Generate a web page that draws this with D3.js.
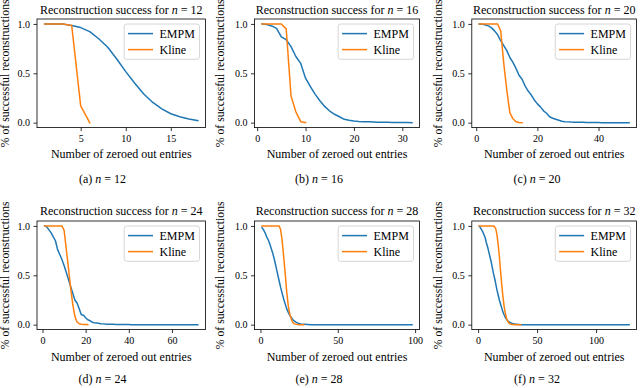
<!DOCTYPE html>
<html>
<head>
<meta charset="utf-8">
<script src="https://cdn.jsdelivr.net/npm/d3@7"></script>
<style>
  html, body { margin: 0; padding: 0; background: #fff; }
  svg { display: block; }
  svg text { font-family: "Liberation Serif", serif; fill: #000; }
</style>
</head>
<body>
<svg id="chart" width="640" height="388"></svg>
<script>

//--------------------------------------
// DATA  (x = number of zeroed out entries, starting at 1)
//--------------------------------------

var empm12 = [1.0, 1.0, 1.0, 0.985, 0.963, 0.922, 0.85, 0.764, 0.645, 0.517, 0.40, 0.29,
  0.205, 0.14, 0.09, 0.06, 0.038, 0.02];
var kline12 = [1.0, 1.0, 1.0, 0.985, 0.17, 0.0];

var empm16 = [1.0, 0.995, 0.98, 0.955, 0.87, 0.84, 0.77, 0.67, 0.60, 0.45, 0.365, 0.287,
  0.22, 0.162, 0.118, 0.085, 0.06, 0.034, 0.024, 0.017, 0.012, 0.01, 0.008, 0.006,
  0.005, 0.004, 0.003, 0.002, 0.002, 0.001, 0.001, 0.0];
var kline16 = [1.0, 1.0, 1.0, 1.0, 1.0, 0.95, 0.27, 0.11, 0.01, 0.0];

var empm20 = [1.0, 0.998, 0.99, 0.98, 0.96, 0.93, 0.89, 0.83, 0.78, 0.73, 0.66, 0.61,
  0.55, 0.48, 0.44, 0.37, 0.32, 0.28, 0.23, 0.19, 0.16, 0.12, 0.095, 0.06,
  0.045, 0.035, 0.025, 0.015, 0.01, 0.008, 0.006, 0.005, 0.004, 0.003, 0.003, 0.002,
  0.001, 0.001, 0.001, 0.001, 0, 0, 0, 0, 0, 0, 0, 0, 0, 0];
var kline20 = [1.0, 1.0, 1.0, 1.0, 1.0, 1.0, 1.0, 0.93, 0.6, 0.33, 0.1, 0.04, 0.01, 0.002, 0.0];

var empm24 = [1.0, 0.99, 0.96, 0.93, 0.89, 0.85, 0.76, 0.71, 0.66, 0.60, 0.53, 0.46,
  0.39, 0.32, 0.25, 0.22, 0.16, 0.10, 0.095, 0.07, 0.05, 0.04, 0.025, 0.02,
  0.018, 0.014, 0.01, 0.008, 0.006, 0.005, 0.004, 0.003, 0.003, 0.002, 0.002, 0.001,
  0.001, 0.001, 0.001, 0.001,
  0, 0, 0, 0, 0, 0, 0, 0, 0, 0, 0, 0, 0, 0, 0, 0,
  0, 0, 0, 0, 0, 0, 0, 0, 0, 0, 0, 0, 0, 0, 0, 0];
var kline24 = [1.0, 1.0, 1.0, 1.0, 1.0, 1.0, 1.0, 1.0, 1.0, 0.956, 0.77, 0.58,
  0.38, 0.21, 0.085, 0.027, 0.01, 0.004, 0.002, 0.001, 0.0];

var empm28 = [0.983, 0.96, 0.93, 0.89, 0.86, 0.82, 0.77, 0.72, 0.66, 0.59, 0.52, 0.45,
  0.38, 0.32, 0.26, 0.21, 0.16, 0.125, 0.095, 0.07, 0.05, 0.035, 0.025, 0.018,
  0.012, 0.008, 0.005, 0.004, 0.003, 0.002, 0.001,
  0, 0, 0, 0, 0, 0, 0, 0, 0, 0, 0, 0, 0, 0, 0, 0, 0, 0, 0, 0,
  0, 0, 0, 0, 0, 0, 0, 0, 0, 0, 0, 0, 0, 0, 0, 0, 0, 0, 0, 0,
  0, 0, 0, 0, 0, 0, 0, 0, 0, 0, 0, 0, 0, 0, 0, 0, 0, 0, 0, 0,
  0, 0, 0, 0, 0, 0, 0];
var kline28 = [1.0, 1.0, 1.0, 1.0, 1.0, 1.0, 1.0, 1.0, 1.0, 1.0, 1.0, 1.0,
  0.966, 0.86, 0.69, 0.52, 0.33, 0.19, 0.107, 0.055, 0.02, 0.008, 0.003, 0.001,
  0, 0, 0, 0];

var empm32 = [1.0, 0.98, 0.96, 0.94, 0.91, 0.88, 0.83, 0.79, 0.74, 0.69, 0.64, 0.58,
  0.52, 0.47, 0.41, 0.35, 0.30, 0.25, 0.21, 0.17, 0.13, 0.10, 0.075, 0.055,
  0.04, 0.03, 0.022, 0.016, 0.012, 0.008, 0.006, 0.004, 0.003, 0.002, 0.001,
  0, 0, 0, 0, 0, 0, 0, 0, 0, 0, 0, 0, 0, 0, 0, 0, 0, 0, 0, 0,
  0, 0, 0, 0, 0, 0, 0, 0, 0, 0, 0, 0, 0, 0, 0, 0, 0, 0, 0, 0,
  0, 0, 0, 0, 0, 0, 0, 0, 0, 0, 0, 0, 0, 0, 0, 0, 0, 0, 0, 0,
  0, 0, 0, 0, 0, 0, 0, 0, 0, 0, 0, 0, 0, 0, 0, 0, 0, 0, 0, 0,
  0, 0, 0, 0, 0, 0, 0, 0, 0, 0, 0, 0, 0];
var kline32 = [1.0, 1.0, 1.0, 1.0, 1.0, 1.0, 1.0, 1.0, 1.0, 1.0, 1.0, 1.0, 1.0,
  0.99, 0.97, 0.91, 0.81, 0.69, 0.55, 0.41, 0.29, 0.19, 0.12, 0.07,
  0.035, 0.018, 0.008, 0.004, 0.002, 0.001, 0, 0, 0, 0, 0, 0];

var panelN       = [12, 16, 20, 24, 28, 32];
var panelLetters = ["a", "b", "c", "d", "e", "f"];
var empmSeries   = [empm12, empm16, empm20, empm24, empm28, empm32];
var klineSeries  = [kline12, kline16, kline20, kline24, kline28, kline32];
var xTickValues  = [[5, 10, 15], [0, 10, 20, 30], [0, 20, 40],
                    [0, 20, 40, 60], [0, 50, 100], [0, 50, 100]];
var yTickValues  = [0, 0.5, 1.0];
var seriesNames  = ["EMPM", "Kline"];


//--------------------------------------
// LAYOUT
//--------------------------------------

var COLOURS   = ["#1f77b4", "#ff7f0e"];

var colLeft   = [37, 254.5, 471.8];
var colRight  = [205.5, 419.5, 636.6];
var rowTop    = [19, 221];
var rowBottom = [127.6, 329.6];
var ylabelX   = [5.5, 220.5, 438];
var captionX  = [102.5, 319, 537];
var titleY    = [13.6, 215];
var xlabelY   = [158.3, 360.5];
var captionY  = [182.5, 383];

var svg = d3.select("#chart");


function _seriesPoints(values) {
  return values.map(function(v, i) { return [i + 1, v]; });
}


function _drawPanel(k) {

  var col = k % 3, row = Math.floor(k / 3);
  var x0 = colLeft[col], x1 = colRight[col];
  var y0 = rowTop[row], y1 = rowBottom[row];

  var empm = _seriesPoints(empmSeries[k]);
  var kline = _seriesPoints(klineSeries[k]);
  var xmax = d3.max(empm.concat(kline), function(d) { return d[0]; });
  var pad = (xmax - 1) * 0.05;

  var x = d3.scaleLinear().domain([1 - pad, xmax + pad]).range([x0, x1]);
  var y = d3.scaleLinear().domain([-0.05, 1.05]).range([y1, y0]);

  var g = svg.append("g");

  // clip so lines stay inside the frame
  g.append("clipPath").attr("id", "clip" + k)
    .append("rect").attr("x", x0).attr("y", y0).attr("width", x1 - x0).attr("height", y1 - y0);

  var line = d3.line().x(function(d) { return x(d[0]); }).y(function(d) { return y(d[1]); });

  [empm, kline].forEach(function(pts, i) {
    g.append("path")
      .datum(pts)
      .attr("clip-path", "url(#clip" + k + ")")
      .attr("fill", "none")
      .attr("stroke", COLOURS[i])
      .attr("stroke-width", 1.5)
      .attr("stroke-linejoin", "round")
      .attr("stroke-linecap", "square")
      .attr("d", line);
  });

  // axes
  var xAxis = d3.axisBottom(x).tickValues(xTickValues[k]).tickSize(3.5).tickPadding(3.5)
    .tickFormat(d3.format("d"));
  var yAxis = d3.axisLeft(y).tickValues(yTickValues).tickSize(3.5).tickPadding(3.5)
    .tickFormat(d3.format(".1f"));

  var gx = g.append("g").attr("transform", "translate(0," + y1 + ")").call(xAxis);
  var gy = g.append("g").attr("transform", "translate(" + x0 + ",0)").call(yAxis);

  [gx, gy].forEach(function(a) {
    a.attr("font-family", null).attr("font-size", null);
    a.select(".domain").remove();
    a.selectAll(".tick line").attr("stroke", "#000").attr("stroke-width", 0.8);
    a.selectAll(".tick text").style("font-size", "10px");
  });

  // frame
  g.append("rect")
    .attr("x", x0).attr("y", y0)
    .attr("width", x1 - x0).attr("height", y1 - y0)
    .attr("fill", "none").attr("stroke", "#000").attr("stroke-width", 0.8);

  // title
  var title = g.append("text")
    .attr("x", (x0 + x1) / 2).attr("y", titleY[row])
    .attr("text-anchor", "middle").style("font-size", "12px");
  title.append("tspan").text("Reconstruction success for ");
  title.append("tspan").style("font-style", "italic").text("n");
  title.append("tspan").text(" = " + panelN[k]);

  // axis labels
  g.append("text")
    .attr("x", (x0 + x1) / 2).attr("y", xlabelY[row])
    .attr("text-anchor", "middle").style("font-size", "12px")
    .text("Number of zeroed out entries");

  g.append("text")
    .attr("transform", "translate(" + ylabelX[col] + "," + ((y0 + y1) / 2) + ") rotate(-90)")
    .attr("text-anchor", "middle").attr("dominant-baseline", "central")
    .style("font-size", "11.7px")
    .text("% of successful reconstructions");

  // caption
  var cap = g.append("text")
    .attr("x", captionX[col]).attr("y", captionY[row])
    .attr("text-anchor", "middle").style("font-size", "12px");
  cap.append("tspan").text("(" + panelLetters[k] + ") ");
  cap.append("tspan").style("font-style", "italic").text("n");
  cap.append("tspan").text(" = " + panelN[k]);

  _drawLegend(g, x1, y0);
}


function _drawLegend(g, right, top) {

  var w = 75.3, h = 35.3;
  var left = right - 6 - w, t = top + 5;

  g.append("rect")
    .attr("x", left).attr("y", t).attr("width", w).attr("height", h)
    .attr("rx", 2.5).attr("ry", 2.5)
    .attr("fill", "#fff").attr("fill-opacity", 0.8)
    .attr("stroke", "#cccccc").attr("stroke-width", 0.8);

  seriesNames.forEach(function(name, i) {
    var yy = t + 9.6 + i * 16;
    g.append("line")
      .attr("x1", left + 3.8).attr("x2", left + 28.8)
      .attr("y1", yy).attr("y2", yy)
      .attr("stroke", COLOURS[i]).attr("stroke-width", 1.5);
    g.append("text")
      .attr("x", left + 35.3).attr("y", yy)
      .attr("dominant-baseline", "central")
      .style("font-size", "12px")
      .text(name);
  });
}


panelN.forEach(function(n, k) { _drawPanel(k); });

</script>
</body>
</html>
